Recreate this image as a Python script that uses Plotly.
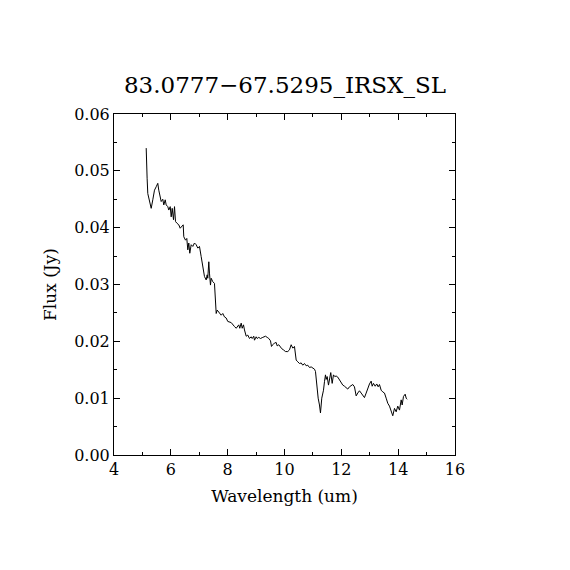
import plotly.graph_objects as go

# spectrum
wavelength = [
    5.133, 5.144, 5.151, 5.165, 5.189, 5.249, 5.309, 5.365, 5.425, 5.485,
    5.541, 5.576, 5.626, 5.661, 5.717, 5.752, 5.802, 5.837, 5.893, 5.928,
    5.978, 6.013, 6.048, 6.094, 6.129, 6.164, 6.210, 6.280, 6.329, 6.386,
    6.435, 6.456, 6.516, 6.562, 6.597, 6.632, 6.667, 6.716, 6.773, 6.832,
    6.892, 6.949, 7.008, 7.068, 7.103, 7.149, 7.184, 7.244, 7.279, 7.300,
    7.336, 7.360, 7.395, 7.420, 7.476, 7.536, 7.571, 7.596, 7.631, 7.687,
    7.737, 7.772, 7.828, 7.888, 7.948, 8.004, 8.124, 8.180, 8.240, 8.300,
    8.356, 8.391, 8.426, 8.476, 8.511, 8.557, 8.592, 8.652, 8.708, 8.768,
    8.828, 8.863, 8.919, 8.944, 9.003, 9.039, 9.095, 9.155, 9.236, 9.331,
    9.391, 9.447, 9.507, 9.542, 9.588, 9.647, 9.707, 9.742, 9.799, 9.848,
    9.904, 9.964, 10.034, 10.115, 10.175, 10.235, 10.291, 10.351, 10.411, 10.467,
    10.527, 10.587, 10.643, 10.703, 10.763, 10.819, 10.879, 10.939, 10.995, 11.055,
    11.090, 11.136, 11.185, 11.231, 11.266, 11.312, 11.372, 11.407, 11.442, 11.467,
    11.502, 11.548, 11.583, 11.628, 11.678, 11.723, 11.769, 11.818, 11.875, 11.935,
    11.994, 12.051, 12.111, 12.170, 12.227, 12.286, 12.346, 12.403, 12.462, 12.522,
    12.578, 12.638, 12.698, 12.754, 12.814, 12.874, 12.930, 12.990, 13.050, 13.085,
    13.131, 13.191, 13.247, 13.296, 13.342, 13.402, 13.458, 13.518, 13.578, 13.634,
    13.694, 13.754, 13.810, 13.870, 13.930, 13.986, 14.046, 14.106, 14.141, 14.187,
    14.246, 14.282, 14.317,
]
flux = [
    0.0540, 0.0498, 0.0519, 0.0487, 0.0460, 0.0449, 0.0434, 0.0449, 0.0466, 0.0472,
    0.0478, 0.0466, 0.0452, 0.0446, 0.0450, 0.0440, 0.0449, 0.0440, 0.0437, 0.0431,
    0.0437, 0.0419, 0.0434, 0.0414, 0.0437, 0.0411, 0.0408, 0.0405, 0.0399, 0.0402,
    0.0405, 0.0384, 0.0378, 0.0381, 0.0361, 0.0373, 0.0355, 0.0370, 0.0367, 0.0373,
    0.0370, 0.0364, 0.0367, 0.0349, 0.0337, 0.0320, 0.0314, 0.0308, 0.0317, 0.0311,
    0.0340, 0.0320, 0.0299, 0.0311, 0.0305, 0.0302, 0.0279, 0.0249, 0.0255, 0.0252,
    0.0249, 0.0246, 0.0249, 0.0243, 0.0241, 0.0235, 0.0233, 0.0229, 0.0226, 0.0223,
    0.0226, 0.0229, 0.0223, 0.0232, 0.0223, 0.0229, 0.0220, 0.0209, 0.0211, 0.0205,
    0.0208, 0.0205, 0.0209, 0.0202, 0.0208, 0.0205, 0.0207, 0.0205, 0.0207, 0.0209,
    0.0207, 0.0205, 0.0201, 0.0191, 0.0194, 0.0197, 0.0198, 0.0192, 0.0194, 0.0190,
    0.0187, 0.0185, 0.0182, 0.0182, 0.0185, 0.0194, 0.0188, 0.0191, 0.0167, 0.0164,
    0.0161, 0.0162, 0.0158, 0.0161, 0.0157, 0.0158, 0.0154, 0.0155, 0.0153, 0.0151,
    0.0147, 0.0120, 0.0100, 0.0088, 0.0074, 0.0100, 0.0114, 0.0129, 0.0141, 0.0133,
    0.0138, 0.0123, 0.0132, 0.0145, 0.0126, 0.0141, 0.0138, 0.0139, 0.0137, 0.0132,
    0.0127, 0.0123, 0.0121, 0.0119, 0.0116, 0.0120, 0.0123, 0.0124, 0.0120, 0.0104,
    0.0109, 0.0113, 0.0109, 0.0106, 0.0101, 0.0109, 0.0117, 0.0125, 0.0130, 0.0121,
    0.0126, 0.0121, 0.0125, 0.0120, 0.0124, 0.0114, 0.0111, 0.0109, 0.0100, 0.0091,
    0.0086, 0.0078, 0.0069, 0.0082, 0.0076, 0.0086, 0.0079, 0.0097, 0.0088, 0.0103,
    0.0107, 0.0100, 0.0098,
]

x_ticks = [4, 6, 8, 10, 12, 14, 16]
y_ticks = [0.00, 0.01, 0.02, 0.03, 0.04, 0.05, 0.06]

serif = "DejaVu Serif"

fig = go.Figure()

fig.add_trace(go.Scatter(
    x=wavelength,
    y=flux,
    mode="lines",
    line=dict(color="black", width=1),
    showlegend=False,
))

axis_style = dict(
    showline=True,
    linecolor="black",
    linewidth=1,
    mirror="ticks",
    ticks="inside",
    ticklen=6,
    tickcolor="black",
    showgrid=False,
    zeroline=False,
    tickfont=dict(family=serif, size=16, color="black"),
)

# page body adds 8px, so the figure is a bit smaller than the window
fig.update_layout(
    width=554,
    height=554,
    margin=dict(l=106, r=107, t=106, b=107),
    paper_bgcolor="white",
    plot_bgcolor="white",
    title=dict(
        text="83.0777\u221267.5295_IRSX_SL",
        font=dict(family=serif, size=23, color="black"),
        x=0.5,
        xanchor="center",
        y=1 - 77 / 554,
        yanchor="middle",
    ),
    xaxis=dict(
        range=[4, 16],
        tickvals=x_ticks,
        ticktext=[str(v) for v in x_ticks],
        minor=dict(ticks="inside", ticklen=3, dtick=1, tickcolor="black"),
        title=dict(text="Wavelength (um)", font=dict(family=serif, size=17, color="black"), standoff=11),
        **axis_style,
    ),
    yaxis=dict(
        range=[0, 0.06],
        tickvals=y_ticks,
        ticktext=["%.2f" % v for v in y_ticks],
        minor=dict(ticks="inside", ticklen=3, dtick=0.005, tickcolor="black"),
        title=dict(text="Flux (Jy)", font=dict(family=serif, size=17, color="black"), standoff=13),
        **axis_style,
    ),
)

fig.write_html("out.html")
